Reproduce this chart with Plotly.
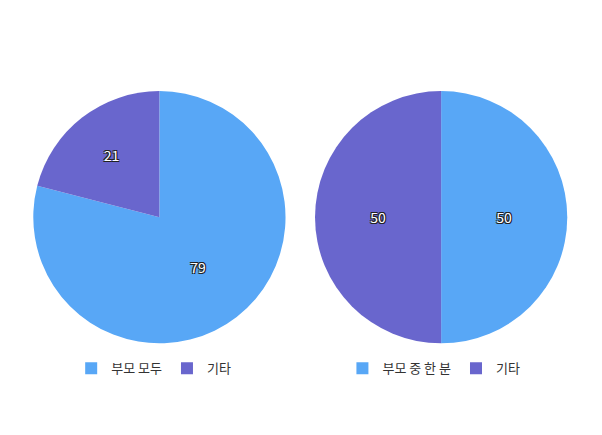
import plotly.graph_objects as go

left_labels = ["부모 모두", "기타"]
left_values = [79, 21]
right_labels = ["부모 중 한 분", "기타 "]
right_values = [50, 50]
colors = ["#58A7F6", "#6966CD"]

FONT = "Noto Sans CJK KR, Noto Sans, sans-serif"
outline = "-1px -1px 0 #222, 1px -1px 0 #222, -1px 1px 0 #222, 1px 1px 0 #222"


def make_pie(labels, values, domain_x, legend):
    return go.Pie(labels=labels, values=values,
                  domain=dict(x=domain_x, y=[0.229, 0.809]),
                  marker=dict(colors=colors),
                  sort=False, direction="clockwise", rotation=0,
                  textinfo="value", textposition="inside",
                  textfont=dict(family=FONT, size=14, color="white", shadow=outline),
                  hoverinfo="label+value", legend=legend)


fig = go.Figure([
    make_pie(left_labels, left_values, [0.042, 0.461], "legend"),
    make_pie(right_labels, right_values, [0.510, 0.929], "legend2"),
])

legend_style = dict(orientation="h", xanchor="center", yanchor="middle", y=0.172,
                    font=dict(family=FONT, size=13, color="#333"), itemwidth=30,
                    entrywidth=0)
fig.update_layout(
    width=602, height=435,
    margin=dict(l=0, r=0, t=0, b=0),
    paper_bgcolor="white",
    font=dict(family=FONT),
    legend=dict(x=0.242, **legend_style),
    legend2=dict(x=0.71, **legend_style),
)

fig.write_html("out.html")
